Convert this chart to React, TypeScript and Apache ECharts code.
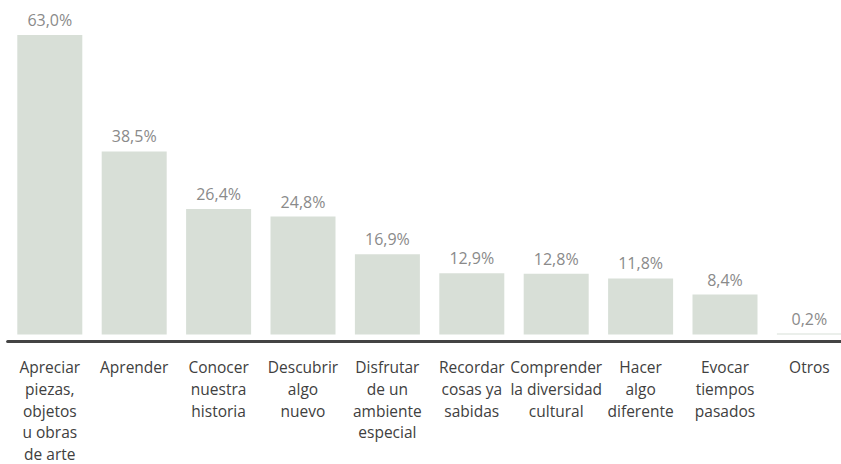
import React, { useEffect, useRef } from "react";
import * as echarts from "echarts";

const categories = [
  "Apreciar\npiezas,\nobjetos\nu obras\nde arte",
  "Aprender",
  "Conocer\nnuestra\nhistoria",
  "Descubrir\nalgo\nnuevo",
  "Disfrutar\nde un\nambiente\nespecial",
  "Recordar\ncosas ya\nsabidas",
  "Comprender\nla diversidad\ncultural",
  "Hacer\nalgo\ndiferente",
  "Evocar\ntiempos\npasados",
  "Otros",
];
const values = [63.0, 38.5, 26.4, 24.8, 16.9, 12.9, 12.8, 11.8, 8.4, 0.2];

export default function App() {
  const ref = useRef<HTMLDivElement>(null);
  useEffect(() => {
    if (!ref.current) return;
    const chart = echarts.init(ref.current, null, { renderer: "svg" });
    chart.setOption({
      animation: false,
      backgroundColor: "#ffffff",
      grid: {
        left: 7.6,
        top: 35,
        width: 844,
        bottom: 129.5,
        containLabel: false,
        outerBoundsMode: "none",
      },
      xAxis: {
        type: "category",
        data: categories,
        offset: 7,
        axisLine: { show: true, onZero: false, lineStyle: { color: "#444444", width: 3 } },
        axisTick: { show: false },
        axisLabel: {
          interval: 0,
          margin: 15,
          color: "#404040",
          fontFamily: "Open Sans",
          fontSize: 15.5,
          lineHeight: 21.7,
          align: "center",
        },
      },
      yAxis: {
        type: "value",
        min: 0,
        max: 63,
        show: false,
        splitLine: { show: false },
      },
      series: [
        {
          type: "bar",
          data: values,
          barWidth: 65,
          itemStyle: { color: "#d8dfd7" },
          label: {
            show: true,
            position: "top",
            distance: 7,
            color: "#8a8a8a",
            fontFamily: "Open Sans",
            fontSize: 16,
            formatter: (p: any) => p.value.toFixed(1).replace(".", ",") + "%",
          },
        },
      ],
    });
    return () => chart.dispose();
  }, []);
  return (
    <div
      ref={ref}
      style={{ position: "fixed", left: 0, top: 0, width: 841, height: 464 }}
    />
  );
}
